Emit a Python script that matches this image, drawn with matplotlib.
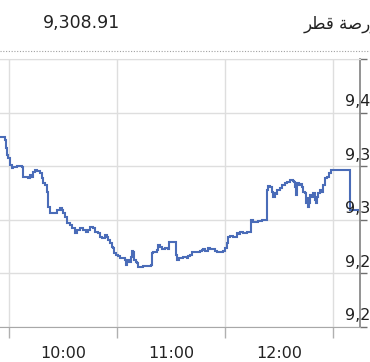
import matplotlib
matplotlib.use("Agg")
import matplotlib.pyplot as plt
from matplotlib.lines import Line2D

# ---- data -------------------------------------------------------------
# time of each trade point, in minutes after 09:00
times = [25.0, 27.2, 27.8, 28.2, 28.7, 29.6, 30.6, 31.5, 32.4, 34.3,
         37.1, 37.6, 37.9, 40.7, 41.7, 42.6, 43.5, 44.4, 45.4, 47.2,
         48.2, 49.1, 50.0, 50.9, 51.8, 52.8, 55.6, 56.5, 58.3, 59.3,
         60.2, 61.1, 62.1, 63.9, 64.8, 66.7, 67.6, 69.4, 71.3, 72.8,
         74.1, 75.0, 76.8, 77.8, 79.6, 80.6, 81.5, 82.4, 83.3, 84.3,
         85.2, 86.1, 87.1, 87.9, 88.3, 89.4, 90.7, 91.7, 93.5, 94.4,
         95.0, 95.7, 96.8, 97.6, 98.2, 99.1, 99.4, 100.6, 101.3, 101.8,
         102.8, 104.6, 107.4, 108.7, 109.3, 110.2, 112.1, 113.0, 113.9, 114.8,
         116.7, 118.5, 119.1, 120.4, 122.2, 122.8, 123.5, 124.6, 126.5, 126.8,
         128.7, 129.6, 130.6, 131.5, 133.3, 135.2, 136.1, 137.1, 137.9, 138.9,
         140.7, 141.7, 143.5, 144.4, 145.4, 148.2, 149.1, 150.0, 150.9, 151.8,
         152.8, 154.6, 156.5, 157.4, 158.3, 160.2, 162.1, 163.9, 164.3, 164.6,
         165.7, 167.2, 168.5, 170.4, 172.8, 173.2, 173.5, 174.1, 175.0, 175.9,
         176.8, 177.8, 178.7, 179.1, 180.6, 181.5, 183.3, 184.3, 186.1, 187.6,
         188.3, 188.9, 189.4, 190.2, 191.3, 192.1, 192.6, 193.5, 194.4, 195.0,
         195.7, 196.3, 196.8, 197.2, 198.2, 199.1, 200.0, 200.6, 200.9, 201.8,
         202.8, 203.7, 204.3, 204.6, 205.6, 206.5, 208.0, 208.7,
         219.4, 223.9]

values = [9377.5, 9377.5, 9374.4, 9366.7, 9360.4, 9357.4, 9351.1, 9348.0, 9349.5, 9350.5,
          9349.5, 9344.9, 9340.2, 9339.3, 9341.8, 9340.2, 9344.9, 9346.4, 9345.5, 9343.4,
          9338.7, 9334.0, 9332.5, 9326.2, 9312.2, 9306.1, 9306.1, 9309.1, 9310.7, 9309.1,
          9306.1, 9302.9, 9296.7, 9295.1, 9292.1, 9287.4, 9290.5, 9292.1, 9290.5, 9288.9,
          9290.5, 9293.6, 9292.1, 9288.9, 9287.4, 9284.2, 9283.3, 9282.7, 9285.8, 9284.2,
          9281.2, 9278.1, 9274.9, 9273.4, 9268.7, 9267.2, 9266.5, 9264.6, 9264.1, 9262.5,
          9257.8, 9262.5, 9260.9, 9265.6, 9270.9, 9270.2, 9262.5, 9260.9, 9259.4, 9256.2,
          9256.2, 9257.2, 9257.2, 9257.8, 9268.7, 9270.2, 9271.8, 9276.5, 9274.9, 9272.8,
          9273.4, 9272.8, 9279.0, 9279.6, 9279.6, 9267.2, 9262.5, 9264.6, 9264.1, 9265.6,
          9264.6, 9266.5, 9267.2, 9270.2, 9269.7, 9270.2, 9270.9, 9271.8, 9272.8, 9270.9,
          9274.0, 9272.8, 9272.8, 9270.9, 9269.7, 9269.7, 9270.9, 9274.0, 9278.1, 9284.2,
          9285.2, 9284.2, 9287.4, 9286.5, 9288.3, 9287.4, 9288.3, 9288.3, 9295.1, 9299.8,
          9297.7, 9298.2, 9298.9, 9299.8, 9299.8, 9313.8, 9327.8, 9331.8, 9330.9, 9326.2,
          9321.5, 9324.7, 9323.1, 9327.8, 9329.9, 9332.5, 9334.0, 9335.5, 9337.1, 9336.2,
          9335.5, 9330.9, 9323.1, 9334.0, 9332.5, 9333.1, 9330.9, 9326.2, 9324.7, 9315.4,
          9320.1, 9312.2, 9315.4, 9323.1, 9321.5, 9324.7, 9318.5, 9315.4, 9321.5, 9324.7,
          9327.8, 9326.2, 9330.9, 9332.5, 9338.7, 9340.2, 9343.4, 9346.4,
          9308.91, 9308.91]

last_value = "9,308.91"
# "بورصة قطر" written with Arabic presentation forms in visual order
index_name = "\uFEAE\uFEC4\uFED7 \uFE94\uFEBB\uFEAD\uFEEE\uFE91"

grid_times = [30, 90, 150, 210]            # 09:30, 10:30, 11:30, 12:30
label_times = [60, 120, 180]               # 10:00, 11:00, 12:00
time_labels = ["10:00", "11:00", "12:00"]
y_ticks = [9200, 9250, 9300, 9350, 9400, 9450]
y_labels = [f"{v:,.0f}" for v in y_ticks]

# ---- figure -----------------------------------------------------------
W, H = 370, 362
fig = plt.figure(figsize=(W / 100, H / 100), dpi=100)
plt.rcParams['font.family'] = ['DejaVu Sans']

ax = fig.add_axes([0, (H - 327) / H, 360 / W, (327 - 59) / H])
ax.plot(times, values, drawstyle='steps-post', color='#4a6cb8', lw=1.5,
        solid_joinstyle='miter', zorder=3)

ax.set_xlim(25, 225)
ax.set_ylim(9200, 9450)

ax.set_xticks(grid_times)
ax.set_xticklabels([''] * len(grid_times))
ax.set_xticks(label_times, minor=True)
ax.set_xticklabels(time_labels, minor=True)
ax.tick_params(axis='x', which='major', length=8, width=1, color='#b0b0b0',
               direction='out')
ax.tick_params(axis='x', which='minor', length=0, pad=14, labelsize=11.5,
               labelcolor='#222222')

ax.set_yticks(y_ticks)
ax.yaxis.tick_right()
ax.tick_params(axis='y', which='major', length=5, width=1, color='#707070',
               direction='out', labelright=False, labelleft=False)

ax.grid(True, which='major', color='#dedede', lw=1)
ax.set_axisbelow(True)

for s in ['left']:
    ax.spines[s].set_visible(False)
ax.spines['top'].set_color('#dedede')
ax.spines['bottom'].set_color('#a8a8a8')
ax.spines['right'].set_color('#808080')
ax.spines['right'].set_linewidth(1.2)

# y labels placed just above each gridline, inside the right edge
for v, lab in zip(y_ticks[:-1], y_labels[:-1]):
    ax.annotate(lab, xy=(345 / 360, v), xycoords=('axes fraction', 'data'),
                xytext=(0, 11 * 0.72), textcoords='offset points',
                ha='left', va='center', fontsize=11.5, color='#222222',
                annotation_clip=False)

# header
fig.text(43 / W, 1 - 23.5 / H, last_value, ha='left', va='center',
         fontsize=12.5, color='#222222')
fig.text(384 / W, 1 - 24 / H, index_name, ha='right', va='center',
         fontsize=12, color='#222222')
fig.add_artist(Line2D([0, 1], [1 - 50.5 / H] * 2, transform=fig.transFigure,
                      color='#a0a0a0', lw=0.8, linestyle=(0, (1, 1.5))))

fig.savefig('out.png', dpi=100)
